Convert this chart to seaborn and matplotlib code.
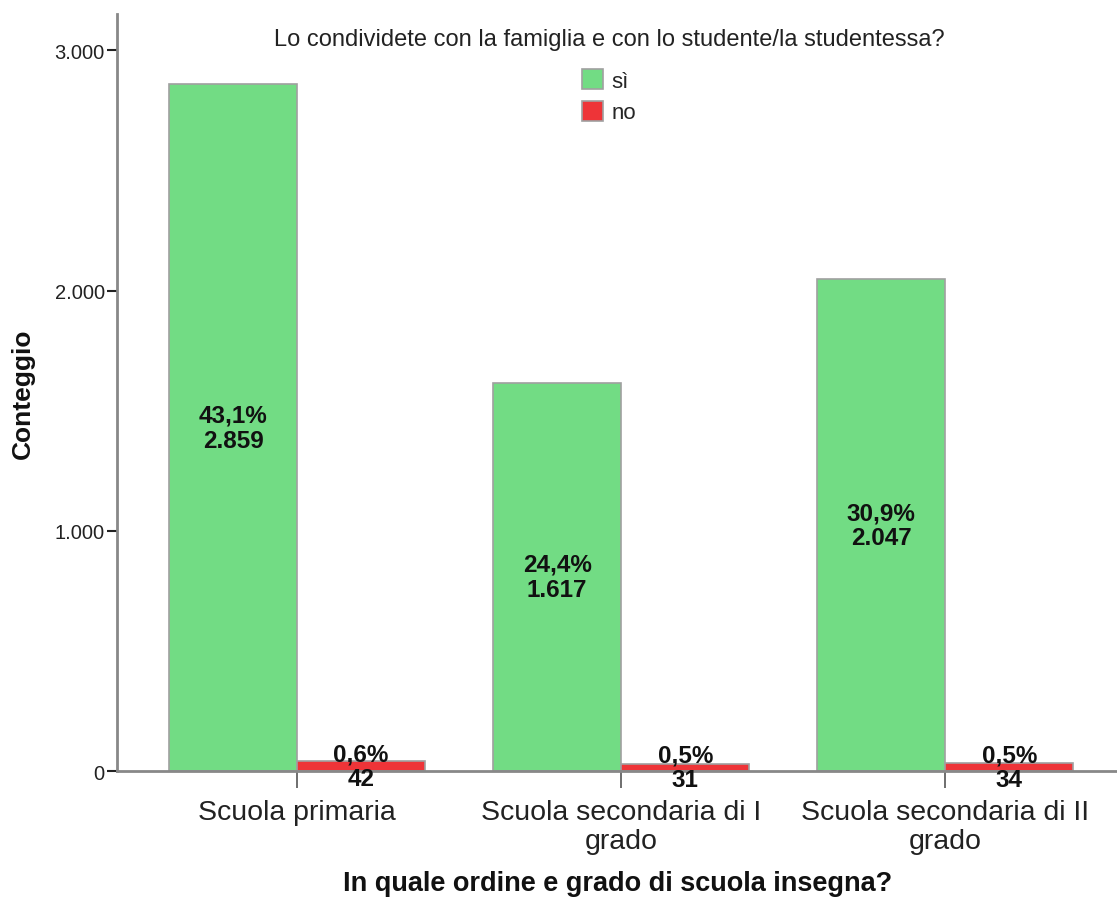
import numpy as np
import pandas as pd
import matplotlib
matplotlib.use('Agg')
import matplotlib.pyplot as plt
from matplotlib.ticker import FuncFormatter
import seaborn as sns

# --- Dati ---
scuole = ['Scuola primaria', 'Scuola secondaria di I\ngrado', 'Scuola secondaria di II\ngrado']
risposte = ['sì', 'no']
conteggi_si = [2859, 1617, 2047]
conteggi_no = [42, 31, 34]
colori = ['#72DC84', '#EE3438']
titolo_legenda = 'Lo condividete con la famiglia e con lo studente/la studentessa?'

df = pd.DataFrame({
    'scuola': scuole * 2,
    'risposta': ['sì'] * 3 + ['no'] * 3,
    'conteggio': conteggi_si + conteggi_no,
})
totale = df['conteggio'].sum()

def it_num(v):
    return f'{int(round(v)):,}'.replace(',', '.')

sns.set_style('white')
plt.rcParams['font.family'] = ['Liberation Sans', 'DejaVu Sans']

fig = plt.figure(figsize=(11.17, 9.04), dpi=100)
ax = fig.add_axes([0.105, 0.146, 0.895, 0.837])

sns.barplot(data=df, x='scuola', y='conteggio', hue='risposta', hue_order=risposte,
            order=scuole, palette=colori, width=0.79, gap=0, edgecolor='#a0a0a0',
            linewidth=1.2, saturation=1, ax=ax, legend=True)

# etichette percentuale + conteggio
for cont in ax.containers:
    for bar in cont:
        h = bar.get_height()
        x = bar.get_x() + bar.get_width() / 2
        ax.text(x, h / 2, f'{h / totale * 100:.1f}%'.replace('.', ',') + '\n' + it_num(h),
                ha='center', va='center', fontsize=17.5, fontweight='bold',
                linespacing=1.1, color='#111111')

ax.set_ylim(0, 3150)
ax.set_xlim(-0.555, 2.53)
ax.set_yticks([0, 1000, 2000, 3000])
ax.yaxis.set_major_formatter(FuncFormatter(lambda v, p: it_num(v)))
ax.tick_params(axis='y', direction='out', length=7, width=1.5, color='#222222',
               labelsize=14.5, labelcolor='#222222', pad=2, left=True)
ax.tick_params(axis='x', direction='out', length=12, width=1.2, color='#555555',
               labelsize=20.5, labelcolor='#222222', pad=8, bottom=True)
ax.set_xticks(range(3))
ax.set_xticklabels(scuole, linespacing=1.15)

for s in ['top', 'right']:
    ax.spines[s].set_visible(False)
for s in ['left', 'bottom']:
    ax.spines[s].set_color('#888888')
    ax.spines[s].set_linewidth(2)

ax.set_ylabel('Conteggio', fontsize=19, fontweight='bold', labelpad=14, color='#111111')
ax.set_xlabel('In quale ordine e grado di scuola insegna?', fontsize=19.5, fontweight='bold',
              labelpad=12, color='#111111')

ax.text(0.492, 0.967, titolo_legenda, transform=ax.transAxes, ha='center', va='center',
        fontsize=17, color='#222222')
leg = ax.legend(loc='upper center', bbox_to_anchor=(0.492, 0.954), frameon=False,
                fontsize=16, handlelength=0.95, handleheight=1.0,
                handletextpad=0.35, labelspacing=0.4)

fig.savefig('out.png', dpi=100)
